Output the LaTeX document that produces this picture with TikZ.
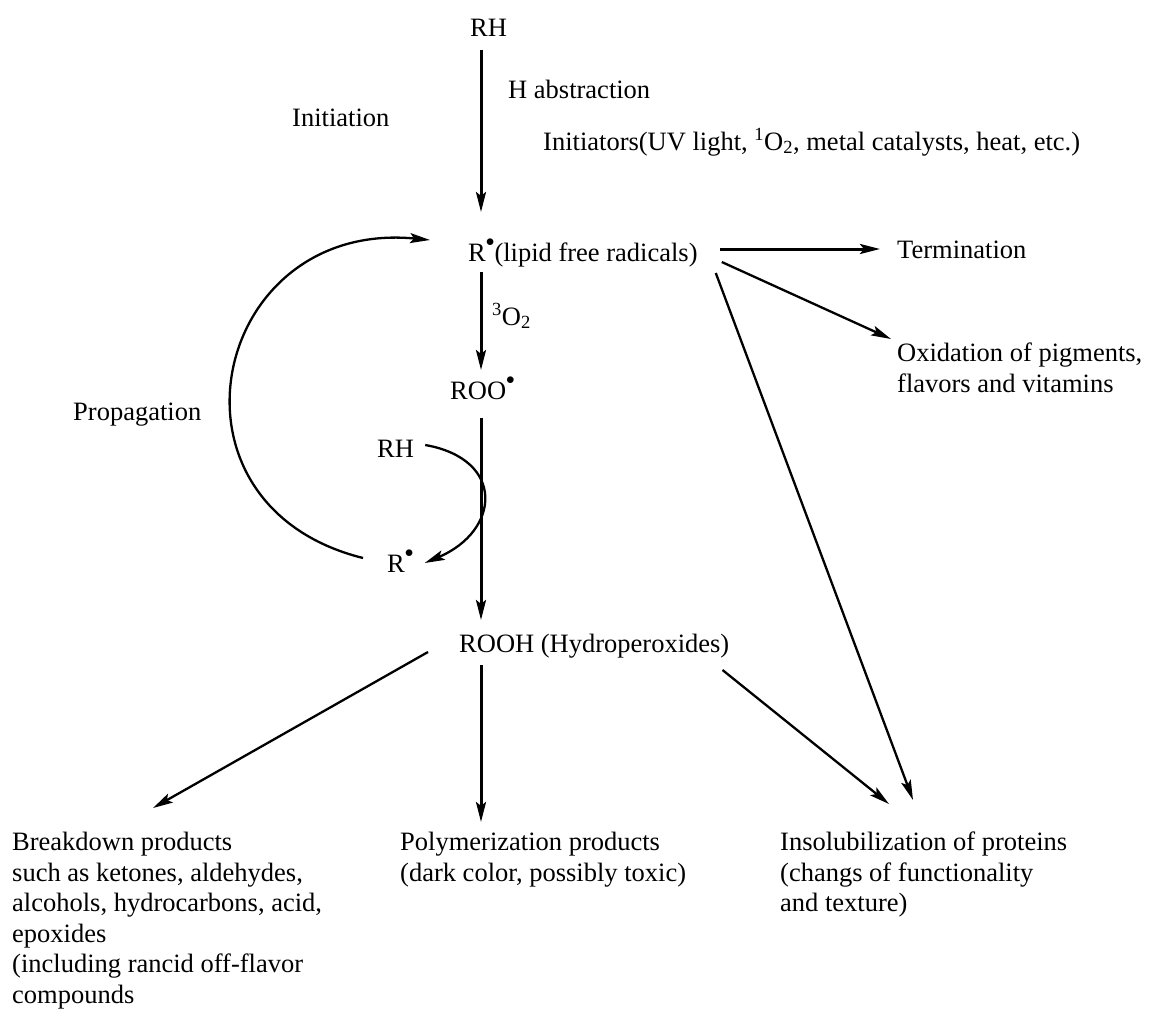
\documentclass[tikz,border=0pt]{standalone}
\usepackage{fontspec}
\setmainfont{Liberation Serif}
\usepackage{tikz}
\usetikzlibrary{arrows.meta, positioning, calc}
\newcommand{\chemsize}{\fontsize{26.5}{30.5}\selectfont}
\newcommand{\frad}{\raisebox{0.55em}{$\scriptstyle\bullet$}}
\tikzset{
    txt/.style={inner sep=0pt, anchor=base west, font=\chemsize},
    para/.style={inner sep=0pt, anchor=north west, align=left, font=\chemsize},
    arrow/.style={line width=3pt, -{Stealth[length=20pt, width=10pt, inset=4pt]}},
    slant/.style={line width=2.3pt, -{Stealth[length=20pt, width=10pt, inset=4pt]}}
}

\begin{document}
\begin{tikzpicture}[x=1pt, y=-1pt]
    \useasboundingbox (0,0) rectangle (1152,1025);

    % Nodes
    \node (rh) [txt] at (470,37) {RH};
    \node (habs) [txt] at (508,99) {H abstraction};
    \node (initiation) [txt] at (292,126) {Initiation};
    \node (initiators) [txt] at (543,150) {Initiators(UV light, \textsuperscript{1}O\textsubscript{2}, metal catalysts, heat, etc.)};
    \node (rlipid) [txt] at (468,261) {R\frad(lipid free radicals)};
    \node (term) [txt] at (897,258) {Termination};
    \node (oxid) [para] at (897,343) {Oxidation of pigments,\\flavors and vitamins};
    \node (o2) [txt] at (492,325) {\textsuperscript{3}O\textsubscript{2}};
    \node (roo) [txt] at (450,399) {ROO\frad};
    \node (propag) [txt] at (73,420) {Propagation};
    \node (rhin) [txt] at (377,457) {RH};
    \node (rsmall) [txt] at (387,572) {R\frad};
    \node (roohyd) [txt] at (459,652) {ROOH (Hydroperoxides)};
    \node (breakdown) [para] at (12,832) {Breakdown products\\such as ketones, aldehydes,\\alcohols, hydrocarbons, acid,\\epoxides\\(including rancid off-flavor\\compounds};
    \node (polym) [para] at (400,832) {Polymerization products\\(dark color, possibly toxic)};
    \node (insol) [para] at (780,832) {Insolubilization of proteins\\(changs of functionality\\and texture)};

    \coordinate (spine) at (481,0);

    % Main chain
    \draw [arrow] ($(spine |- rh.base)+(0,13)$) -- ($(spine |- rlipid.base)+(0,-49)$);
    \draw [arrow] ($(spine |- rlipid.base)+(0,11)$) -- ($(spine |- roo.base)+(0,-29)$);
    \draw [arrow] ($(spine |- roo.base)+(0,19)$) -- ($(spine |- roohyd.base)+(0,-32)$);
    \draw [arrow] ($(spine |- roohyd.base)+(0,13)$) -- ($(spine |- polym.north)+(0,-10)$);

    % Side reactions of R
    \draw [arrow] ($(rlipid.base east)+(22,-12)$) -- ($(term.base west)+(-17,-9)$);
    \draw [slant] ($(rlipid.base east)+(24,1)$) -- ($(oxid.north west)+(-6,-4)$);
    \draw [slant] ($(rlipid.base east)+(18,12)$) -- ($(insol.north west)+(133,-32)$);

    % Products of ROOH
    \draw [slant] ($(roohyd.base west)+(-31,0)$) -- ($(breakdown.north west)+(141,-24)$);
    \draw [slant] ($(roohyd.base east)+(-7,18)$) -- ($(insol.north west)+(109,-28)$);

    % Propagation cycle
    \draw [slant] ($(rsmall.base west)+(-24,-14)$) .. controls +(194:220) and +(185.5:220) .. ($(rlipid.base west)+(-38,-21)$);
    \draw [slant] ($(rhin.base east)+(11,-12)$) .. controls +(10:82) and +(-23:82) .. ($(rsmall.base east)+(11,-9)$);

\end{tikzpicture}
\end{document}
